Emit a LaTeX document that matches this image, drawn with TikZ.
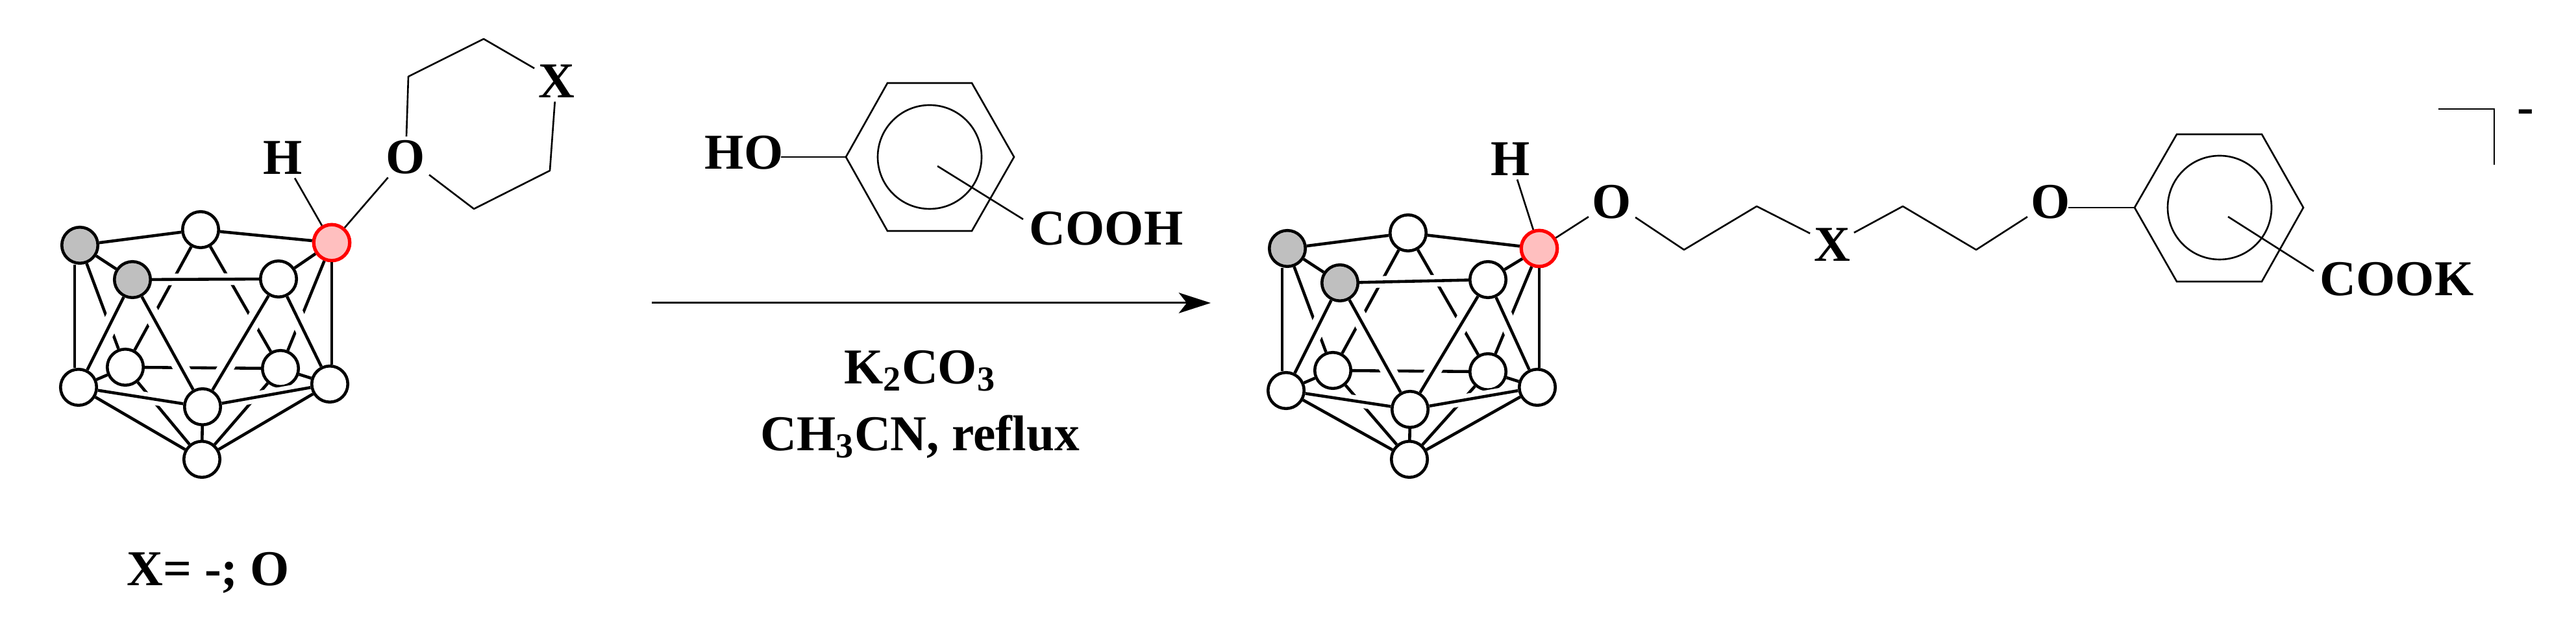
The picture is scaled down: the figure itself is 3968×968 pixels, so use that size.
\documentclass[tikz,border=0pt]{standalone}
\usepackage{fontspec}
\setmainfont{Liberation Serif}
\usepackage{tikz}
\usetikzlibrary{arrows.meta}

% all bonds of one cage, #1 is the prefix of its node names
\newcommand{\cagebonds}[1]{%
  \foreach \p/\q in {a/f,c/g,b/f,b/g,f/g,f/k,g/k,f/h,g/i}
    \path[cagebond] (#1\p) edge (#1\q);
  \foreach \p/\q in {d/h,e/i,d/j,e/j}
    \path[halowide] (#1\p) edge (#1\q);
  \foreach \p/\q in {d/e,h/j,i/j}
    \path[halonarrow] (#1\p) edge (#1\q);
  \foreach \p/\q in {a/b,b/c,a/d,d/e,e/c,d/h,e/i,d/j,e/j,h/j,i/j,j/k,h/k,i/k}
    \path[cagebond] (#1\p) edge (#1\q);
  % the two upright sides
  \draw[line width=1.3pt] ([xshift=-0.06cm]#1h.north) -- ([xshift=-0.06cm]#1h.north |- #1a.south);
  \draw[line width=1.3pt] (#1c.south) -- (#1c.south |- #1i.north);
}

\begin{document}
\begin{tikzpicture}[%
    x=0.01cm,y=-0.01cm,>={Stealth[length=14pt,width=9pt,inset=3.5pt]},
    cagebond/.style={every edge/.append style={draw,line width=1.3pt}},
    halowide/.style={every edge/.append style={draw,white,line width=0.24cm}},
    halonarrow/.style={every edge/.append style={draw,white,line width=0.18cm}},
    bond/.style={line width=0.75pt},
    vertex/.style={circle,draw,line width=1.3pt,fill=white,minimum size=0.555cm,inner sep=0pt},
    grey/.style={vertex,fill=black!25},
    hot/.style={vertex,draw=red,fill=red!25,line width=1.5pt},
    atom/.style={font=\bfseries\fontsize{22}{26}\selectfont,inner sep=1.5pt,text height=14.6pt,text depth=0pt},
    chemtext/.style={font=\bfseries\fontsize{22}{26}\selectfont,inner sep=0pt,anchor=base}
  ]
    \useasboundingbox (0,0) rectangle (3968,968);

    % left cage
    \node[grey]   (la) at (123,378) {};
    \node[vertex] (lb) at (309,354) {};
    \node[hot]    (lc) at (511,374) {};
    \node[grey]   (ld) at (204,431) {};
    \node[vertex] (le) at (429,430) {};
    \node[vertex] (lf) at (193,566) {};
    \node[vertex] (lg) at (432,568) {};
    \node[vertex] (lh) at (121,597) {};
    \node[vertex] (li) at (508,592) {};
    \node[vertex] (lj) at (312,627) {};
    \node[vertex] (lk) at (311,708) {};
    \cagebonds{l}

    % right cage
    \node[grey]   (ra) at (1983,383) {};
    \node[vertex] (rb) at (2169,359) {};
    \node[hot]    (rc) at (2371,383) {};
    \node[grey]   (rd) at (2064,436) {};
    \node[vertex] (re) at (2292,431) {};
    \node[vertex] (rf) at (2053,571) {};
    \node[vertex] (rg) at (2292,573) {};
    \node[vertex] (rh) at (1981,602) {};
    \node[vertex] (ri) at (2368,597) {};
    \node[vertex] (rj) at (2172,631) {};
    \node[vertex] (rk) at (2171,708) {};
    \cagebonds{r}

    % crown on the left cage
    \node[atom] (lH) at (436,243) {H};
    \node[atom] (lO) at (625,242) {O};
    \node[atom] (lX) at (857,125) {X};
    \coordinate (v1) at (629,118);
    \coordinate (v2) at (745,60);
    \coordinate (v3) at (847,263);
    \coordinate (v4) at (730,322);
    \draw[bond] (lc) -- (lH);
    \draw[bond] (lc) -- (lO);
    \draw[bond,line join=bevel] (lO) -- (v1) -- (v2) -- (lX);
    \draw[bond,line join=bevel] (lX) -- (v3) -- (v4) -- (lO);
    \node[chemtext] (xlabel) at (321,903) {X= -; O};

    % phenol
    \node[atom] (ho) at (1146,235) {HO};
    \node[atom] (cooh) at (1704,352) {COOH};
    \coordinate (h1) at (1303,242);
    \coordinate (h2) at (1367,128);
    \coordinate (h3) at (1497,128);
    \coordinate (h4) at (1562,242);
    \coordinate (h5) at (1497,356);
    \coordinate (h6) at (1367,356);
    \coordinate (hc) at (1432,242);
    \coordinate (hs) at (1444,256);
    \coordinate (he) at (1576,338);
    \draw[bond] (h1) -- (h2) -- (h3) -- (h4) -- (h5) -- (h6) -- cycle;
    \draw[bond] (hc) circle [radius=80];
    \draw[bond] ([xshift=-0.09cm]h1 -| ho.east) -- (h1);
    \draw[bond] (hs) -- (he);

    % arrow
    \coordinate (start) at (1004,467);
    \coordinate (end) at (1865,467);
    \path[->,line width=0.85pt] (start) edge (end);
    \node[chemtext] (base) at (1417,592) {K\textsubscript{2}CO\textsubscript{3}};
    \node[chemtext] (solvent) at (1417,695) {CH\textsubscript{3}CN, reflux};

    % chain of the product
    \node[atom] (rH) at (2327,245) {H};
    \node[atom] (o1) at (2483,311) {O};
    \node[atom] (rX) at (2822,377) {X};
    \node[atom] (o2) at (3159,311) {O};
    \coordinate (c1) at (2594,385);
    \coordinate (c2) at (2706,318);
    \coordinate (c3) at (2931,318);
    \coordinate (c4) at (3044,385);
    \draw[bond] (rc) -- (rH);
    \draw[bond] (rc) -- (o1);
    \draw[bond,line join=bevel] (o1) -- (c1) -- (c2) -- (rX);
    \draw[bond,line join=bevel] (rX) -- (c3) -- (c4) -- (o2);

    % benzoate
    \node[atom] (cook) at (3692,430) {COOK};
    \coordinate (k1) at (3288,320);
    \coordinate (k2) at (3353,207);
    \coordinate (k3) at (3484,207);
    \coordinate (k4) at (3548,320);
    \coordinate (k5) at (3484,434);
    \coordinate (k6) at (3353,434);
    \coordinate (kc) at (3419,320);
    \coordinate (ks) at (3432,334);
    \coordinate (ke) at (3564,418);
    \draw[bond] (k1) -- (k2) -- (k3) -- (k4) -- (k5) -- (k6) -- cycle;
    \draw[bond] (kc) circle [radius=80];
    \draw[bond] ([xshift=-0.09cm]k1 -| o2.east) -- (k1);
    \draw[bond] (ks) -- (ke);

    % charge
    \coordinate (b1) at (3756,168);
    \coordinate (b2) at (3842,168);
    \coordinate (b3) at (3842,254);
    \draw[line width=0.75pt] (b1) -- (b2) -- (b3);
    \node[chemtext] (minus) at (3890,191) {-};
  \end{tikzpicture}
\end{document}
